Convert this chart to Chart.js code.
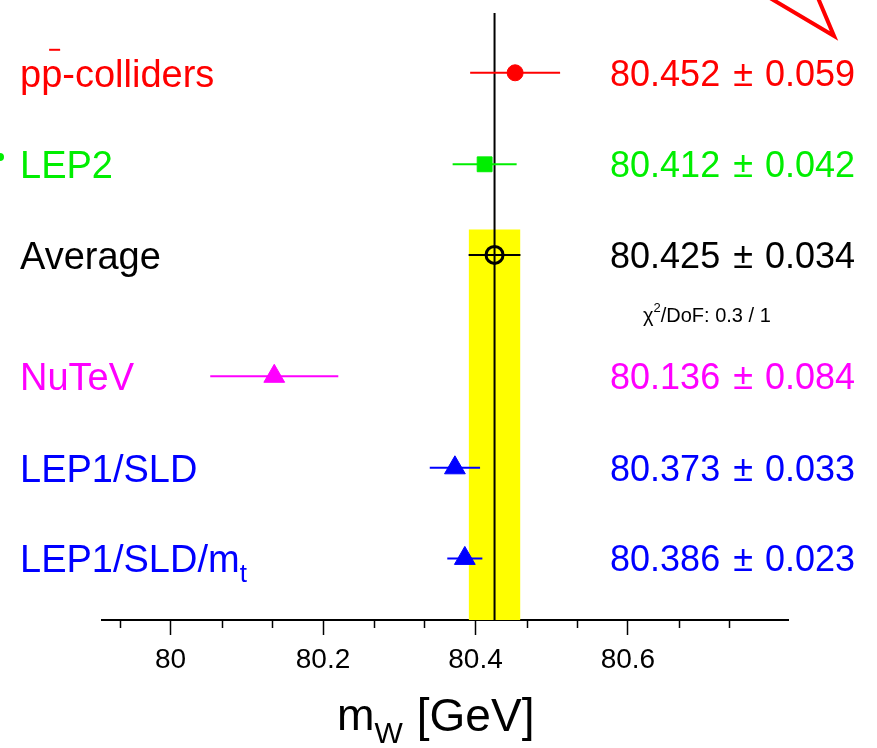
<!DOCTYPE html>
<html>
<head>
<meta charset="utf-8">
<script src="https://cdn.jsdelivr.net/npm/chart.js@4.4.0/dist/chart.umd.min.js"></script>
<style>
  body { margin: 0; background: #fff; }
  #wrap { width: 877px; height: 748px; }
</style>
</head>
<body>
<div id="wrap"><canvas id="myChart"></canvas></div>
<script>
// W mass measurements
var labels = ['pp-colliders', 'LEP2', 'Average', 'NuTeV', 'LEP1/SLD', 'LEP1/SLD/m'];
var values = [80.452, 80.412, 80.425, 80.136, 80.373, 80.386];
var errors = [0.059, 0.042, 0.034, 0.084, 0.033, 0.023];
var rows = [6.04, 5.03, 4.03, 2.69, 1.68, 0.68];
var colors = ['#ff0000', '#00ee00', '#000000', '#ff00ff', '#0000ff', '#0000ff'];
var markers = ['circle', 'rect', 'circle', 'triangle', 'triangle', 'triangle'];
var majorTicks = [80, 80.2, 80.4, 80.6];
var minorTicks = [79.933, 80.067, 80.133, 80.267, 80.333, 80.467, 80.533, 80.667, 80.733];
var chi2 = '0.3 / 1';
var avg = 2;          // which row is the average
var bandTop = 4.31;   // top of the yellow band (row units)

var FONT = '"Liberation Sans", Arial, sans-serif';

var datasets = [];

// markers
datasets.push({
    data: values.map(function (v, i) { return { x: v, y: rows[i] }; }),
    showLine: false,
    pointStyle: markers,
    pointRadius: [8, 10.5, 8.5, 12, 12, 12],
    pointBackgroundColor: colors.map(function (c, i) { return i === avg ? 'rgba(0,0,0,0)' : c; }),
    pointBorderColor: colors,
    pointBorderWidth: [1, 1, 3, 1, 1, 1],
    order: 0
});

// error bars
values.forEach(function (v, i) {
    datasets.push({
        data: [{ x: v - errors[i], y: rows[i] }, { x: v + errors[i], y: rows[i] }],
        borderColor: colors[i],
        borderWidth: 2,
        pointRadius: 0,
        order: 1
    });
});

// vertical line at the average
datasets.push({
    data: [{ x: values[avg], y: 0 }, { x: values[avg], y: 6.7 }],
    borderColor: '#000000',
    borderWidth: 2,
    pointRadius: 0,
    order: 2
});

// yellow average band
datasets.push({
    data: [{ x: values[avg] - errors[avg], y: bandTop }, { x: values[avg] + errors[avg], y: bandTop }],
    borderColor: 'rgba(0,0,0,0)',
    borderWidth: 0,
    backgroundColor: '#ffff00',
    fill: 'origin',
    pointRadius: 0,
    order: 3
});

var textPlugin = {
    id: 'texts',
    afterDraw: function (chart) {
        var ctx = chart.ctx;
        var xs = chart.scales.x, ys = chart.scales.y;
        var area = chart.chartArea;
        ctx.save();

        // minor ticks
        ctx.strokeStyle = '#000';
        ctx.lineWidth = 1.5;
        minorTicks.forEach(function (v) {
            var px = Math.round(xs.getPixelForValue(v)) + 0.5;
            ctx.beginPath();
            ctx.moveTo(px, area.bottom);
            ctx.lineTo(px, area.bottom + 8);
            ctx.stroke();
        });

        // row labels and values
        labels.forEach(function (lab, i) {
            var py = ys.getPixelForValue(rows[i]);
            ctx.fillStyle = colors[i];
            ctx.strokeStyle = colors[i];
            ctx.textBaseline = 'alphabetic';

            ctx.font = '38px ' + FONT;
            ctx.textAlign = 'left';
            ctx.fillText(lab, 20, py + 14);
            var w = ctx.measureText(lab).width;
            if (i === 0) {
                // bar over the second p
                var wp = ctx.measureText('p').width;
                ctx.lineWidth = 2;
                ctx.beginPath();
                ctx.moveTo(20 + wp + 8, py - 23);
                ctx.lineTo(20 + wp + 19, py - 23);
                ctx.stroke();
            }
            if (i === 5) {
                ctx.font = '26px ' + FONT;
                ctx.fillText('t', 20 + w, py + 24);
            }

            // value +- error, right aligned
            ctx.font = '36px ' + FONT;
            ctx.textAlign = 'right';
            var bx = 855;
            var errTxt = errors[i].toFixed(3);
            ctx.fillText(errTxt, bx, py + 13);
            bx -= ctx.measureText(errTxt).width + 12;
            ctx.fillText('\u00b1', bx, py + 13);
            bx -= ctx.measureText('\u00b1').width + 13;
            ctx.fillText(values[i].toFixed(3), bx, py + 13);
        });

        // chi2 line under the average
        var cy = ys.getPixelForValue(rows[avg]) + 67;
        ctx.fillStyle = '#000';
        ctx.textAlign = 'left';
        ctx.font = '20px ' + FONT;
        ctx.fillText('\u03c7', 643, cy);
        var cx = 643 + ctx.measureText('\u03c7').width;
        ctx.font = '13px ' + FONT;
        ctx.fillText('2', cx, cy - 10);
        cx += ctx.measureText('2').width;
        ctx.font = '20px ' + FONT;
        ctx.fillText('/DoF: ' + chi2, cx, cy);

        // axis title m_W [GeV]
        ctx.font = '45px ' + FONT;
        ctx.fillText('m', 337, 730);
        var tx = 337 + ctx.measureText('m').width;
        ctx.font = '30px ' + FONT;
        ctx.fillText('W', tx, 743);
        tx += ctx.measureText('W').width + 14;
        ctx.font = '46px ' + FONT;
        ctx.fillText('[GeV]', tx, 731);

        // red arrow edge, top right
        ctx.strokeStyle = '#ff0000';
        ctx.lineWidth = 4;
        ctx.beginPath();
        ctx.moveTo(770, -2);
        ctx.lineTo(834, 36);
        ctx.lineTo(818, -2);
        ctx.stroke();

        // green dot at the left edge
        ctx.fillStyle = '#00ee00';
        ctx.beginPath();
        ctx.arc(0, 157, 4, 0, Math.PI * 2);
        ctx.fill();

        ctx.restore();
    }
};

var ctx = document.getElementById('myChart');
var myChart = new Chart(ctx, {
    type: 'line',
    data: { datasets: datasets },
    options: {
        responsive: true,
        maintainAspectRatio: false,
        animation: false,
        events: [],
        layout: { padding: { left: 102, right: 89, top: 10, bottom: 0 } },
        plugins: {
            legend: { display: false },
            tooltip: { enabled: false }
        },
        scales: {
            x: {
                type: 'linear',
                min: 79.91,
                max: 80.81,
                afterBuildTicks: function (scale) {
                    scale.ticks = majorTicks.map(function (v) { return { value: v }; });
                },
                afterFit: function (scale) { scale.height = 128; },
                ticks: {
                    color: '#000',
                    font: { family: FONT, size: 28 },
                    padding: 8,
                    maxRotation: 0,
                    callback: function (v) { return String(v); }
                },
                grid: {
                    drawOnChartArea: false,
                    tickLength: 15,
                    tickColor: '#000',
                    tickWidth: 1.5
                },
                border: { display: true, color: '#000', width: 2 }
            },
            y: {
                type: 'linear',
                min: 0,
                max: 6.7,
                display: false
            }
        }
    },
    plugins: [textPlugin]
});
</script>
</body>
</html>
